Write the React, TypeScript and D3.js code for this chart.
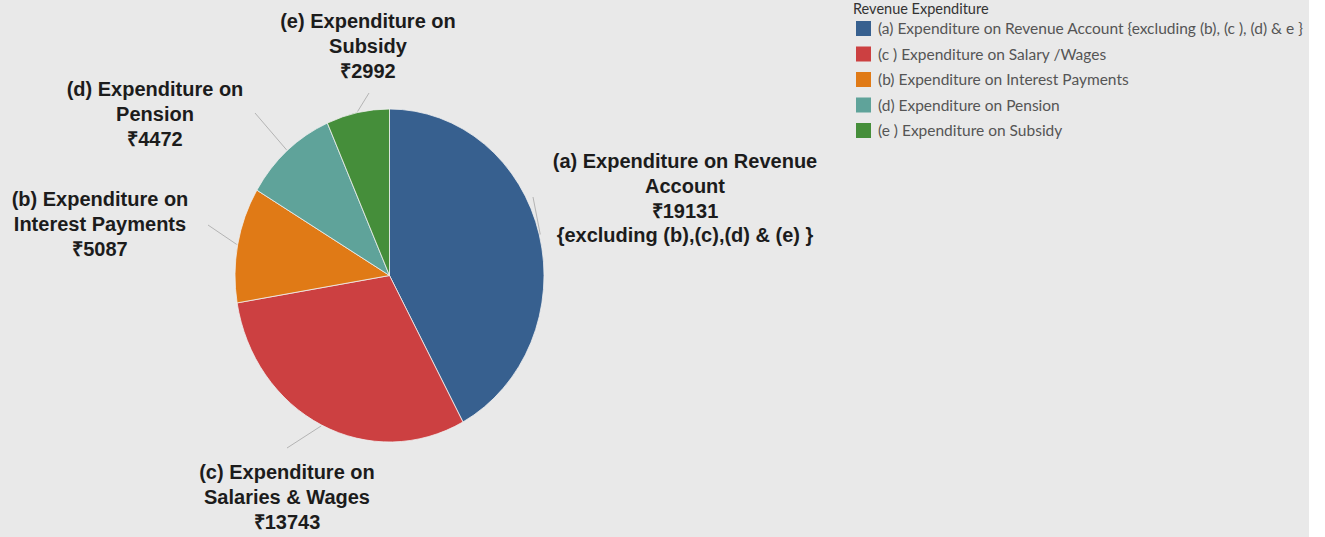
import React from 'react';
import * as d3 from 'd3';

// ---- data ----
const categories = ['a', 'c', 'b', 'd', 'e'];
const values = [19131, 13743, 5087, 4472, 2992];
const legendNames = [
  '(a) Expenditure on Revenue Account {excluding (b), (c ), (d) & e }',
  '(c ) Expenditure on Salary /Wages',
  '(b) Expenditure on Interest Payments',
  '(d) Expenditure on Pension',
  '(e )  Expenditure on Subsidy',
];
const labelTitles = [
  ['(a) Expenditure on Revenue', 'Account'],
  ['(c) Expenditure on', 'Salaries & Wages'],
  ['(b) Expenditure on', 'Interest Payments'],
  ['(d) Expenditure on', 'Pension'],
  ['(e) Expenditure on', 'Subsidy'],
];
const labelSuffix = ['{excluding (b),(c),(d) & (e) }', '', '', '', ''];
const colors = ['#37608f', '#cc4041', '#e07a16', '#5fa39a', '#458e3a'];
const legendTitle = 'Revenue Expenditure';

// ---- layout ----
const W = 1325;
const H = 537;
const CX = 389.5;
const CY = 275.5;
const RX = 154.5;
const RY = 166.5;
// label anchor (center x, first baseline y) and leader end point
const labelLayout = [
  { x: 685, y: 168, lx: 533, ly: 197 },
  { x: 287, y: 479, lx: 287, ly: 448 },
  { x: 100, y: 206, lx: 208, ly: 225 },
  { x: 155, y: 96, lx: 255, ly: 113 },
  { x: 368, y: 28, lx: 369, ly: 93 },
];

export default function App() {
  const pie = d3.pie<number>().sort(null).value((d) => d)(values);
  const arc = d3.arc<d3.PieArcDatum<number>>().innerRadius(0).outerRadius(RX);
  const labelFont = "'Liberation Sans', Arial, sans-serif";
  const legendFont = "Lato, 'Open Sans', sans-serif";

  return (
    <svg
      width={W}
      height={H}
      style={{ position: 'absolute', left: 0, top: 0, display: 'block' }}
    >
      <rect x={0} y={0} width={W} height={H} fill="#ffffff" />
      <rect x={0} y={0} width={1309} height={H} fill="#e9e9e9" />

      <g transform={`translate(${CX},${CY}) scale(1,${RY / RX})`}>
        {pie.map((p, i) => (
          <path
            key={categories[i]}
            d={arc(p) || ''}
            fill={colors[i]}
            stroke="#f0f0f0"
            strokeWidth={0.8}
            vectorEffect="non-scaling-stroke"
          />
        ))}
      </g>

      {pie.map((p, i) => {
        const m = (p.startAngle + p.endAngle) / 2;
        const sx = CX + (RX + 1) * Math.sin(m);
        const sy = CY - (RY + 1) * Math.cos(m);
        const L = labelLayout[i];
        return (
          <line
            key={'l' + i}
            x1={sx}
            y1={sy}
            x2={L.lx}
            y2={L.ly}
            stroke="#b4b4b4"
            strokeWidth={1}
          />
        );
      })}

      {pie.map((p, i) => {
        const L = labelLayout[i];
        const lines = [...labelTitles[i], '₹' + values[i]];
        if (labelSuffix[i]) lines.push(labelSuffix[i]);
        return (
          <text
            key={'t' + i}
            x={L.x}
            y={L.y}
            textAnchor="middle"
            fontFamily={labelFont}
            fontWeight="bold"
            fontSize={20}
            fill="#1c1c1c"
          >
            {lines.map((s, j) => (
              <tspan key={j} x={L.x} y={L.y + j * 24.8}>
                {s}
              </tspan>
            ))}
          </text>
        );
      })}

      <g fontFamily={legendFont}>
        <text x={853} y={14} fontSize={14.5} fill="#333333">
          {legendTitle}
        </text>
        {legendNames.map((name, i) => (
          <g key={'lg' + i} transform={`translate(856,${21 + i * 25.5})`}>
            <rect x={0} y={0} width={15} height={15} fill={colors[i]} />
            <text x={22} y={13} fontSize={15.5} fill="#555555">
              {name}
            </text>
          </g>
        ))}
      </g>
    </svg>
  );
}
